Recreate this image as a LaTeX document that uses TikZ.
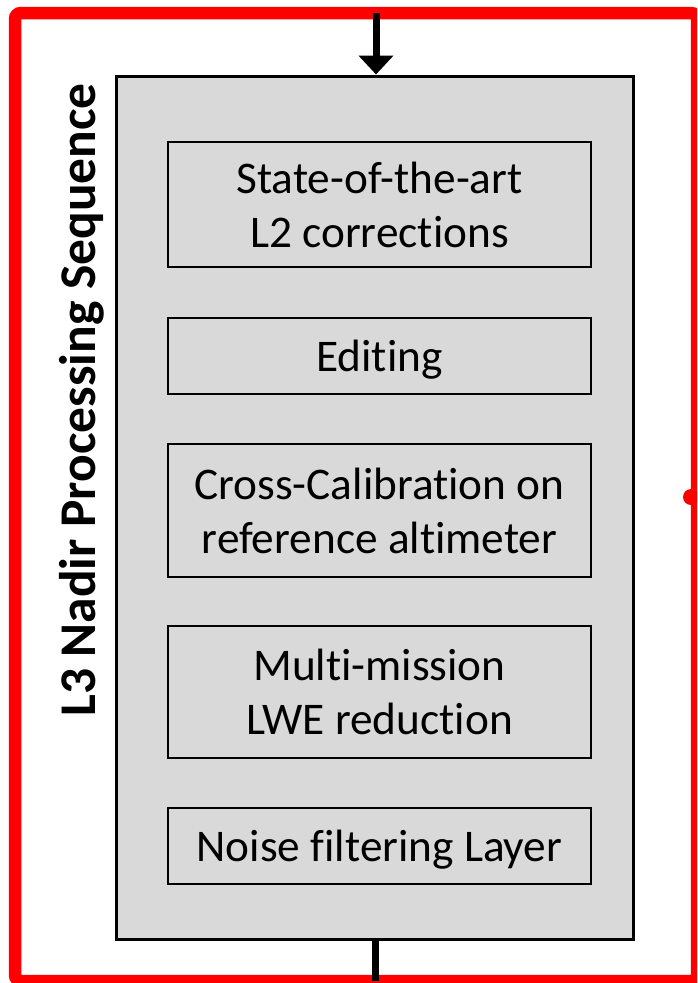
\documentclass[tikz,border=0pt]{standalone}
\usepackage{fontspec}
\setmainfont{Carlito}[Ligatures={NoCommon,NoRare,NoContextual}]
\usetikzlibrary{arrows.meta}
\definecolor{panelgray}{RGB}{217,217,217}
\definecolor{framered}{RGB}{255,0,0}
\tikzset{
  stepbox/.style={draw=black, line width=2pt, fill=panelgray, minimum width=423pt,
    align=center, font=\fontsize{45.3}{54}\selectfont, inner sep=0pt},
  onelinebox/.style={stepbox, minimum height=76pt, text height=30pt, text depth=0pt},
  flowline/.style={draw=black, line width=7pt},
}
\begin{document}
\begin{tikzpicture}[x=1pt, y=-1pt]
\useasboundingbox (0,0) rectangle (697,983);
\begin{scope}
\clip (0,0) rectangle (697,983);
% outer frame
\draw[framered, line width=12.5pt, rounded corners=6pt] (15,13) rectangle (697,981);
\fill[framered] (691,497) circle (8pt);
% processing panel
\node[draw=black, line width=3pt, fill=panelgray, minimum width=517pt, minimum height=863pt, inner sep=0pt] (panel) at (374.5,507.5) {};
\coordinate (in) at (376,13);
\coordinate (out) at (375,981);
\draw[flowline, -{Triangle[width=34pt,length=19pt]}] (in) -- (panel.north -| in);
\draw[flowline] (panel.south -| out) -- (out);
% steps
\node[stepbox, minimum height=125pt] (s1) at (379.5,204.5) {State-of-the-art\\L2 corrections};
\node[onelinebox] (s2) at (379.5,356) {Editing};
\node[stepbox, minimum height=133pt] (s3) at (379.5,510.5) {Cross-Calibration on\\reference altimeter};
\node[stepbox, minimum height=132pt] (s4) at (379.5,692) {Multi-mission\\LWE reduction};
\node[onelinebox] (s5) at (379.5,846) {Noise filtering Layer};
% title
\node[rotate=90, anchor=base, font=\bfseries\fontsize{51.5}{60}\selectfont] (title) at (95,400) {L3 Nadir Processing Sequence};
\end{scope}
\end{tikzpicture}
\end{document}
